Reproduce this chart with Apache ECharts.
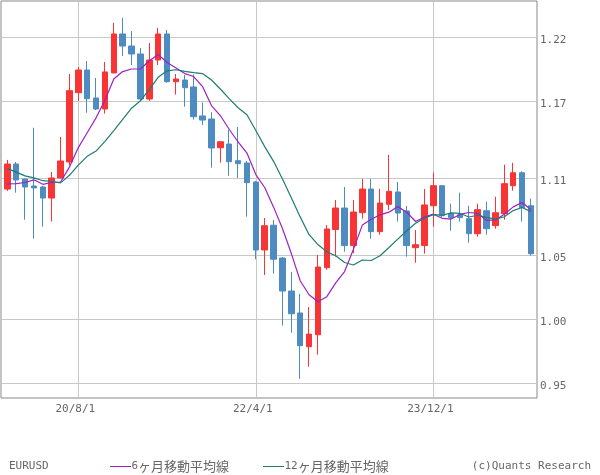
<!DOCTYPE html>
<html><head><meta charset="utf-8">
<script src="https://cdn.jsdelivr.net/npm/echarts@6/dist/echarts.min.js"></script>
<style>html,body{margin:0;padding:0;background:#fff}#c{width:600px;height:475px}</style>
</head><body><div id="c"></div>
<script>
const months = ['19/12/1','20/1/1','20/2/1','20/3/1','20/4/1','20/5/1','20/6/1','20/7/1','20/8/1','20/9/1','20/10/1','20/11/1',
'20/12/1','21/1/1','21/2/1','21/3/1','21/4/1','21/5/1','21/6/1','21/7/1','21/8/1','21/9/1','21/10/1','21/11/1',
'21/12/1','22/1/1','22/2/1','22/3/1','22/4/1','22/5/1','22/6/1','22/7/1','22/8/1','22/9/1','22/10/1','22/11/1',
'22/12/1','23/1/1','23/2/1','23/3/1','23/4/1','23/5/1','23/6/1','23/7/1','23/8/1','23/9/1','23/10/1','23/11/1',
'23/12/1','24/1/1','24/2/1','24/3/1','24/4/1','24/5/1','24/6/1','24/7/1','24/8/1','24/9/1','24/10/1','24/11/1'];
const opens = [1.1016,1.1211,1.1094,1.1040,1.1032,1.0946,1.1102,1.1227,1.1767,1.1944,1.1726,1.1640,
1.1921,1.2225,1.2131,1.2069,1.1718,1.2022,1.2225,1.1853,1.1866,1.1812,1.1586,1.1562,
1.1338,1.1367,1.1237,1.1219,1.1071,1.0541,1.0734,1.0478,1.0221,1.0050,0.9787,0.9880,
1.0403,1.0701,1.0868,1.0575,1.0832,1.1016,1.0684,1.0897,1.0993,1.0845,1.0559,1.0575,
1.0886,1.1042,1.0824,1.0816,1.0785,1.0668,1.0847,1.0731,1.0824,1.1042,1.1143,1.0886];
const highs = [1.1243,1.1227,1.1096,1.1494,1.1040,1.1149,1.1422,1.1913,1.1968,1.2014,1.1882,1.2007,
1.2311,1.2350,1.2248,1.2116,1.2155,1.2272,1.2256,1.1913,1.1905,1.1909,1.1692,1.1615,
1.1386,1.1479,1.1500,1.1235,1.1080,1.0790,1.0775,1.0486,1.0369,1.0198,1.0096,1.0502,
1.0736,1.0931,1.1032,1.0931,1.1094,1.1094,1.1017,1.1282,1.1071,1.0884,1.0697,1.1017,
1.1144,1.1046,1.0902,1.0988,1.0886,1.0902,1.0917,1.0956,1.1206,1.1221,1.1154,1.0941];
const lows = [1.1001,1.0988,1.0777,1.0629,1.0723,1.0762,1.1100,1.1200,1.1703,1.1611,1.1632,1.1604,
1.1921,1.2053,1.1983,1.1704,1.1704,1.1983,1.1845,1.1752,1.1658,1.1557,1.1515,1.1183,
1.1222,1.1120,1.1102,1.0801,1.0468,1.0346,1.0356,0.9951,0.9896,0.9537,0.9631,0.9725,
1.0387,1.0489,1.0528,1.0516,1.0785,1.0629,1.0660,1.0853,1.0762,1.0489,1.0442,1.0512,
1.0723,1.0795,1.0691,1.0762,1.0598,1.0645,1.0660,1.0707,1.0777,1.1003,1.0762,1.0496];
const closes = [1.1211,1.1087,1.1032,1.1025,1.0946,1.1102,1.1235,1.1783,1.1944,1.1720,1.1640,1.1929,
1.2225,1.2131,1.2069,1.1718,1.2022,1.2225,1.1853,1.1874,1.1806,1.1580,1.1554,1.1336,
1.1385,1.1229,1.1214,1.1066,1.0541,1.0730,1.0469,1.0221,1.0044,0.9795,0.9885,1.0408,
1.0705,1.0868,1.0575,1.0837,1.1016,1.0684,1.0907,1.0998,1.0829,1.0575,1.0582,1.0892,
1.1042,1.0808,1.0793,1.0793,1.0668,1.0855,1.0707,1.0831,1.1058,1.1143,1.0871,1.0512];
const ma6 = [1.1057,1.1059,1.1067,1.1088,1.1053,1.1067,1.1071,1.1187,1.1339,1.1455,
1.1571,1.1709,1.1874,1.1932,1.1952,1.1952,1.2016,1.2065,1.2003,1.1960,
1.1916,1.1893,1.1815,1.1667,1.1589,1.1482,1.1383,1.1297,1.1129,1.1028,
1.0875,1.0708,1.0513,1.0301,1.0192,1.0138,1.0177,1.0284,1.0373,1.0546,
1.0735,1.0781,1.0815,1.0836,1.0879,1.0835,1.0763,1.0797,1.0820,1.0788,
1.0782,1.0818,1.0833,1.0827,1.0771,1.0775,1.0819,1.0877,1.0911,1.0854];
const ma12 = [1.1177,1.1148,1.1119,1.1103,1.1081,1.1075,1.1064,1.1123,1.1203,1.1271,
1.1312,1.1388,1.1472,1.1559,1.1646,1.1704,1.1793,1.1887,1.1938,1.1946,
1.1934,1.1923,1.1916,1.1866,1.1796,1.1721,1.1650,1.1595,1.1472,1.1347,
1.1232,1.1095,1.0948,1.0799,1.0660,1.0583,1.0526,1.0496,1.0443,1.0424,
1.0463,1.0459,1.0496,1.0560,1.0626,1.0691,1.0749,1.0789,1.0817,1.0812,
1.0830,1.0827,1.0798,1.0812,1.0795,1.0781,1.0800,1.0848,1.0872,1.0840];
const yTicks = [0.95, 1.00, 1.05, 1.11, 1.17, 1.22];
const xTickIdx = [8, 28, 48];

const UP = '#F83434', DOWN = '#4D8BC0', C6 = '#9E22C2', C12 = '#1E7C72';
const mono = '"DejaVu Sans Mono", monospace';

const candleData = months.map((m, i) => [i, opens[i], closes[i], lows[i], highs[i]]);
const ma6Data = ma6.map((v, i) => [i, v]);
const ma12Data = ma12.map((v, i) => [i, v]);

const chart = echarts.init(document.getElementById('c'), null, {renderer: 'canvas'});
chart.setOption({
  animation: false,
  backgroundColor: '#fff',
  grid: {left: 1, top: 1, width: 536, height: 397, show: true, borderColor: '#888', borderWidth: 1, backgroundColor: 'transparent'},
  xAxis: {
    type: 'value', min: -0.71, max: 59.68,
    axisLine: {show: false}, axisTick: {show: false, customValues: xTickIdx},
    axisLabel: {customValues: xTickIdx, formatter: v => months[Math.round(v)], fontFamily: mono, fontSize: 11, color: '#666', margin: 6, padding: [0, 6, 0, 0]},
    splitLine: {show: true, lineStyle: {color: '#c8c8c8', width: 1}}
  },
  yAxis: {
    type: 'value', position: 'right', min: 0.9387, max: 1.2482, scale: true,
    axisLine: {show: false}, axisTick: {show: false, customValues: yTicks},
    axisLabel: {customValues: yTicks, formatter: v => v.toFixed(2), fontFamily: mono, fontSize: 11, color: '#666', margin: 3, verticalAlign: 'top', lineHeight: 6},
    splitLine: {show: true, lineStyle: {color: '#c8c8c8', width: 1}}
  },
  series: [
    {type: 'candlestick', data: candleData, encode: {x: 0, y: [1, 2, 3, 4]}, barWidth: 6,
     itemStyle: {color: UP, color0: DOWN, borderColor: UP, borderColor0: DOWN, borderWidth: 1}},
    {type: 'line', data: ma6Data, symbol: 'none', lineStyle: {color: C6, width: 1.2}, z: 3},
    {type: 'line', data: ma12Data, symbol: 'none', lineStyle: {color: C12, width: 1.2}, z: 3}
  ],
  graphic: [
    {type: 'text', x: 9, y: 466, style: {text: 'EURUSD', font: '11px ' + mono, fill: '#666', textVerticalAlign: 'middle'}},
    {type: 'line', shape: {x1: 110, y1: 466.5, x2: 131, y2: 466.5}, style: {stroke: C6, lineWidth: 1}},
    {type: 'text', x: 131.5, y: 466, style: {text: '{a|6}{b|ヶ月移動平均線}', textVerticalAlign: 'middle', rich: {
      a: {fontFamily: mono, fontSize: 11, fill: '#666'},
      b: {fontFamily: '"Noto Sans CJK JP"', fontSize: 13, fill: '#666'}}}},
    {type: 'line', shape: {x1: 263, y1: 466.5, x2: 284, y2: 466.5}, style: {stroke: C12, lineWidth: 1}},
    {type: 'text', x: 284.5, y: 466, style: {text: '{a|12}{b|ヶ月移動平均線}', textVerticalAlign: 'middle', rich: {
      a: {fontFamily: mono, fontSize: 11, fill: '#666'},
      b: {fontFamily: '"Noto Sans CJK JP"', fontSize: 13, fill: '#666'}}}},
    {type: 'text', x: 591, y: 466, style: {text: '(c)Quants Research', font: '11px ' + mono, fill: '#666', textAlign: 'right', textVerticalAlign: 'middle'}}
  ]
});
</script></body></html>
